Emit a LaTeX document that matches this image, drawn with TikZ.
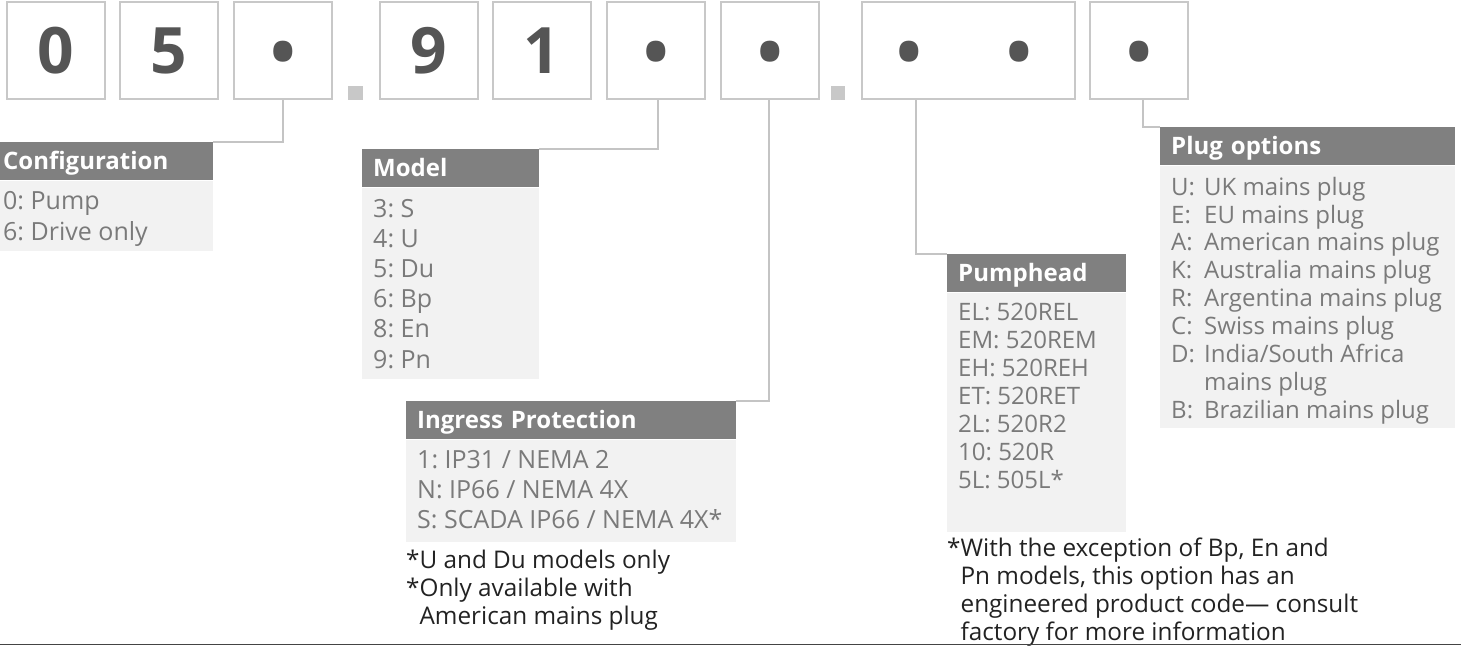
\documentclass[tikz,border=0pt]{standalone}
\usepackage{fontspec}
\setmainfont{Open Sans}
\frenchspacing
\usetikzlibrary{positioning}
\definecolor{boxgray}{HTML}{C8C8C8}
\definecolor{linkgray}{HTML}{C4C4C4}
\definecolor{digitgray}{HTML}{555555}
\definecolor{headgray}{HTML}{808080}
\definecolor{panelgray}{HTML}{F2F2F2}
\definecolor{entrygray}{HTML}{7A7A7A}
\definecolor{notegray}{HTML}{222222}
\definecolor{rulegray}{HTML}{444444}
\newcommand{\fs}[2]{\fontsize{#1}{#2}\selectfont}
\newcommand{\topline}{\rule{0pt}{20pt}}
\newcommand{\plabel}[1]{\makebox[33pt][l]{#1}}

\tikzset{
  digit/.style={draw=boxgray, line width=2pt, minimum width=98pt, minimum height=97pt, inner sep=0pt, text=digitgray, font=\bfseries\fs{64}{70}},
  digittext/.style={inner sep=0pt, text=digitgray, font=\bfseries\fs{68}{70}},
  sepsq/.style={fill=boxgray, minimum size=14.5pt, inner sep=0pt},
  head/.style={fill=headgray, text=white, font=\bfseries\fs{24}{28}, anchor=north west, inner ysep=0pt, inner xsep=11pt, minimum height=38pt, text height=19pt, text depth=3pt, align=left},
  panel/.style={fill=panelgray, anchor=north west, inner sep=0pt},
  entries/.style 2 args={text=entrygray, font=\fs{#1}{#2}, align=left, anchor=north west, inner sep=0pt},
  note/.style={text=notegray, font=\fs{24.3}{28}, align=left, anchor=north west, inner sep=0pt},
  link/.style={draw=linkgray, line width=2pt}
}

\begin{document}
\begin{tikzpicture}[x=1pt, y=-1pt]
  \useasboundingbox (0,0) rectangle (1461,646);

  \node[digit] (d1) at (56,50.5) {0};
  \node[digit] (d2) at (169,50.5) {5};
  \node[digit] (d3) at (282.5,50.5) {};
  \node[digittext] (d3a) at (283,58.5) {•};
  \node[sepsq] (sa) at (355.5,93) {};
  \node[digit] (d4) at (428.5,50.5) {9};
  \node[digit] (d5) at (542,50.5) {1};
  \node[digit] (d6) at (656,50.5) {};
  \node[digittext] (d6a) at (656,58.5) {•};
  \node[digit] (d7) at (770,50.5) {};
  \node[digittext] (d7a) at (770,58.5) {•};
  \node[sepsq] (sb) at (838,93) {};
  \node[digit, minimum width=213pt] (d8) at (968.5,50.5) {};
  \node[digittext] (d8a) at (909.5,58.5) {•};
  \node[digittext] (d8b) at (1019.5,58.5) {•};
  \node[digit] (d9) at (1139,50.5) {};
  \node[digittext] (d9a) at (1139,58.5) {•};

  \node[head, inner xsep=3pt, text width=207pt] (cfghead) at (0,142) {Configuration};
  \node[panel, minimum width=213pt, minimum height=70pt] (cfgpanel) at (cfghead.south west) {};
  \node[entries={25}{31}] (cfglist) at ([xshift=3pt, yshift=-9pt]cfgpanel.north west)
       {\topline 0: Pump\\6: Drive only};

  \node[head, text width=155pt] (modhead) at (362,149) {Model};
  \node[panel, minimum width=177pt, minimum height=191pt] (modpanel) at (modhead.south west) {};
  \node[entries={25}{30.2}] (modlist) at ([xshift=11pt, yshift=-9.5pt]modpanel.north west)
       {\topline 3: S\\4: U\\5: Du\\6: Bp\\8: En\\9: Pn};

  \node[head, text width=308pt] (iphead) at (406,401) {Ingress Protection};
  \node[panel, minimum width=330pt, minimum height=102pt] (ippanel) at (iphead.south west) {};
  \node[entries={25}{30}] (iplist) at ([xshift=11pt, yshift=-9pt]ippanel.north west)
       {\topline 1: IP31 / NEMA 2\\N: IP66 / NEMA 4X\\S: SCADA IP66 / NEMA 4X*};
  \node[note] (ipnote) at (406,548)
       {\topline *U and Du models only\\*Only available with\\\phantom{*}American mains plug};

  \node[head, text width=157pt] (pumphead) at (947,254) {Pumphead};
  \node[panel, minimum width=179pt, minimum height=239pt] (pumppanel) at (pumphead.south west) {};
  \node[entries={24}{28}] (pumplist) at ([xshift=11pt, yshift=-8pt]pumppanel.north west)
       {\topline EL: 520REL\\EM: 520REM\\EH: 520REH\\ET: 520RET\\2L: 520R2\\10: 520R\\5L: 505L*};
  \node[note] (pumpnote) at (947,536)
       {\topline *With the exception of Bp, En and\\\phantom{*}Pn models, this option has an\\
        \phantom{*}engineered product code— consult\\\phantom{*}factory for more information};

  \node[head, text width=273pt] (plughead) at (1160,127) {Plug options};
  \node[panel, minimum width=295pt, minimum height=262pt] (plugpanel) at (plughead.south west) {};
  \node[entries={24}{27.9}] (pluglist) at ([xshift=11pt, yshift=-9.5pt]plugpanel.north west)
       {\topline\plabel{U:}UK mains plug\\\plabel{E:}EU mains plug\\\plabel{A:}American mains plug\\
        \plabel{K:}Australia mains plug\\\plabel{R:}Argentina mains plug\\\plabel{C:}Swiss mains plug\\
        \plabel{D:}India/South Africa\\\plabel{}mains plug\\\plabel{B:}Brazilian mains plug};

  \draw[link] (d3.south) |- (cfghead.north east);
  \draw[link] ([xshift=2pt]d6.south) |- (modhead.north east);
  \draw[link] ([xshift=-1pt]d7.south) |- (iphead.north east);
  \draw[link] ([xshift=-52.5pt]d8.south) |- (pumphead.north west);
  \draw[link] ([xshift=4pt]d9.south) |- (plughead.north west);

  \draw[rulegray, line width=1.5pt] (0,644.5) -- (1461,644.5);
\end{tikzpicture}
\end{document}
